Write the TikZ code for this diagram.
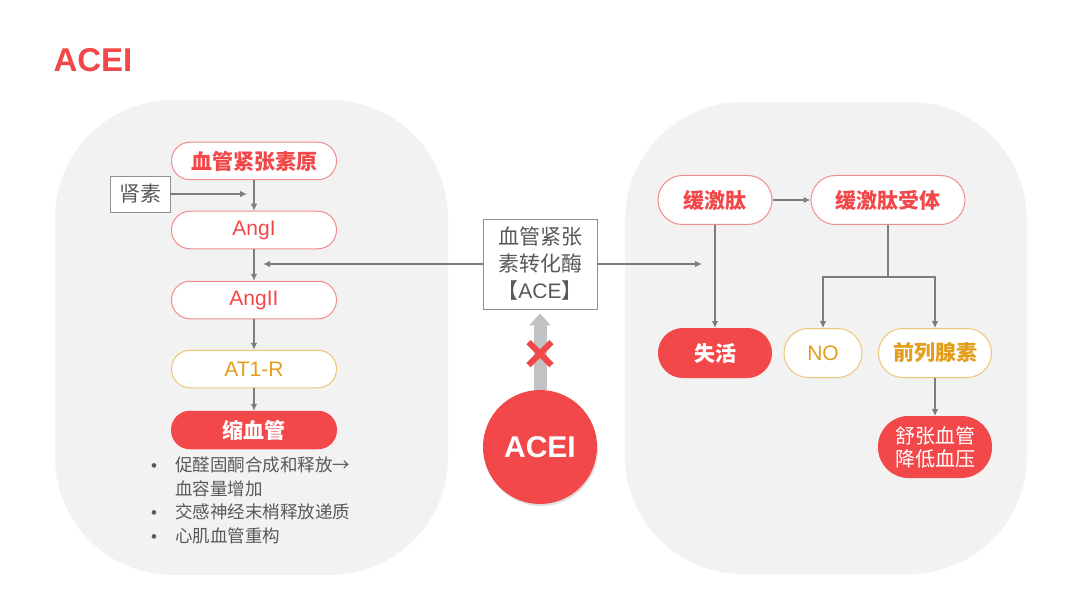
\documentclass[tikz,border=0pt]{standalone}
\usepackage{fontspec}
\setmainfont{Noto Sans CJK SC}
\newfontfamily\latinfont{Liberation Sans}
\usepackage{xcolor}
\usetikzlibrary{arrows.meta, positioning, shapes.misc, calc, shadows}
\definecolor{aceRed}{RGB}{242,72,74}
\definecolor{lineRed}{RGB}{240,140,140}
\definecolor{aceGold}{RGB}{226,158,28}
\definecolor{lineGold}{RGB}{236,198,118}
\definecolor{blobGray}{RGB}{242,242,242}
\definecolor{arrowGray}{RGB}{125,125,125}
\definecolor{fatGray}{RGB}{194,194,194}
\definecolor{darkText}{RGB}{89,89,89}
\newcommand{\sizept}[2]{\fontsize{#1}{#2}\selectfont}
\newcommand{\dotmark}{\makebox[24pt][l]{\latinfont\sizept{17}{17}•}}
\tikzset{
    pillbox/.style={
        rectangle,
        draw=lineRed,
        line width=1pt,
        rounded corners=18.5pt,
        align=center,
        fill=white,
        text=aceRed,
        inner sep=0pt,
        minimum width=165pt,
        minimum height=37.5pt,
        font=\sizept{21}{25}
    },
    goldbox/.style={
        pillbox,
        draw=lineGold,
        text=aceGold
    },
    hotbox/.style={
        pillbox,
        draw=aceRed,
        fill=aceRed,
        text=white,
        font=\sizept{21}{25}\bfseries
    },
    bigpill/.style={
        pillbox,
        rounded corners=24.5pt,
        minimum height=49pt,
        minimum width=114pt
    },
    plainbox/.style={
        rectangle,
        draw=arrowGray!85,
        line width=0.9pt,
        align=center,
        fill=white,
        text=darkText,
        inner sep=0pt,
        font=\sizept{21}{27}
    },
    blob/.style={fill=blobGray, rounded corners=118pt},
    flowarrow/.style={-{Latex[length=7pt, width=6.5pt]}, line width=1.1pt, draw=arrowGray},
    flowline/.style={line width=1.1pt, draw=arrowGray},
    fatarrow/.style={-{Triangle[width=21pt, length=12pt]}, line width=13pt, draw=fatGray}
}

\begin{document}
\begin{tikzpicture}[x=1pt, y=-1pt]
    \fill[white] (0,0) rectangle (1080,607);
    \useasboundingbox (0,0) rectangle (1080,607);
    \fill[blob] (55,100) rectangle (448,575);
    \fill[blob] (625,102) rectangle (1027,574);
    \node[text=aceRed, font=\latinfont\sizept{33}{36}\bfseries] (title) at (93,60) {ACEI};
    \node[pillbox, font=\sizept{21}{25}\bfseries] (pro) at (254,161) {血管紧张素原};
    \node[plainbox, minimum width=60pt, minimum height=36pt] (renin) at (140,194) {肾素};
    \node[pillbox, font=\latinfont\sizept{21}{25}] (angI) at (254,230) {AngI};
    \node[pillbox, font=\latinfont\sizept{21}{25}] (angII) at (254,300) {AngII};
    \node[goldbox, font=\latinfont\sizept{21}{25}] (at1) at (254,369) {AT1-R};
    \node[hotbox] (vaso) at (254,430) {缩血管};
    \node[anchor=north west, align=left, inner sep=0pt, text=darkText, font=\sizept{17.5}{23.5}] (effects) at (151,457)
        {\dotmark 促醛固酮合成和释放→\\
         \makebox[24pt][l]{}血容量增加\\
         \dotmark 交感神经末梢释放递质\\
         \dotmark 心肌血管重构};
    \node[plainbox, minimum width=114pt, minimum height=90pt] (ace) at (540,264) {血管紧张\\素转化酶\\【{\latinfont ACE}】};
    \node[circle, fill=aceRed, minimum size=114pt, inner sep=0pt, text=white, font=\latinfont\sizept{30}{34}\bfseries,
        drop shadow={opacity=0.25, shadow xshift=1pt, shadow yshift=-2pt}] (acei) at (540,447) {ACEI};
    \node[bigpill, font=\sizept{21}{25}\bfseries] (bk) at (715,200) {缓激肽};
    \node[bigpill, minimum width=154pt, font=\sizept{21}{25}\bfseries] (bkr) at (888,200) {缓激肽受体};
    \node[bigpill, hotbox, rounded corners=24.5pt, minimum height=49pt, minimum width=113pt] (inact) at (715,353) {失活};
    \node[bigpill, goldbox, rounded corners=24.5pt, minimum height=49pt, minimum width=78pt, font=\latinfont\sizept{21}{25}] (no) at (823,353) {NO};
    \node[bigpill, goldbox, rounded corners=24.5pt, minimum height=49pt, minimum width=113pt, font=\sizept{21}{25}\bfseries] (pg) at (935,353) {前列腺素};
    \node[hotbox, rounded corners=30pt, minimum height=61pt, minimum width=113pt, font=\sizept{20}{23}] (relax) at (935,447) {舒张血管\\降低血压};
    \coordinate (split) at ($(bkr.south)+(0,52)$);
    \draw[flowarrow] (pro) -- (angI);
    \draw[flowarrow] (renin.east) -- ($(pro.south |- renin.east)+(-7,0)$);
    \draw[flowarrow] (angI) -- (angII);
    \draw[flowarrow] (angII) -- (at1);
    \draw[flowarrow] (at1) -- (vaso);
    \draw[flowarrow] (ace.west) -- ($(angI.south |- ace.west)+(9,0)$);
    \draw[flowarrow] (ace.east) -- ($(bk.south |- ace.east)+(-13,0)$);
    \draw[flowarrow] (bk) -- (bkr);
    \draw[flowarrow] (bk) -- (inact);
    \draw[flowline] (bkr.south) -- (split);
    \draw[flowarrow] (split) -| (no.north);
    \draw[flowarrow] (split) -| (pg.north);
    \draw[flowarrow] (pg) -- (relax);
    \draw[fatarrow, shorten >=4pt] (acei.north) -- (ace.south);
    \node[cross out, draw=aceRed, line width=6pt, minimum size=17pt, inner sep=0pt] (block) at ($(ace.south)!0.55!(acei.north)$) {};
\end{tikzpicture}
\end{document}
